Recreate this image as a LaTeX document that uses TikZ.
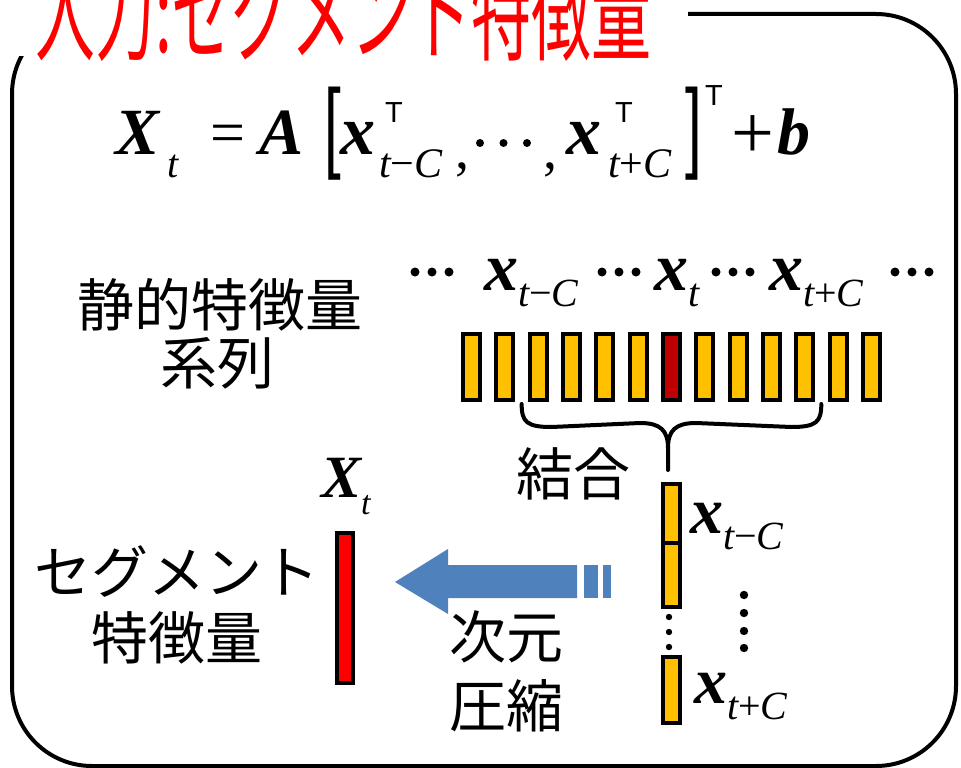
\documentclass[tikz,border=0pt]{standalone}
\usepackage{graphicx}
\usepackage{fontspec}
\newfontfamily\jp{Noto Sans CJK JP}
\newfontfamily\tnr{Liberation Serif}
\newfontfamily\ars{Liberation Sans}
\newcommand\fsz[1]{\fontsize{#1}{#1}\selectfont}
\newcommand\BI[2]{{\fsz{#1}\tnr\bfseries\itshape #2}}
\newcommand\IT[2]{{\fsz{#1}\tnr\itshape #2}}
\newcommand\vx[4]{\BI{#1}{#2}\raisebox{-16pt}{\IT{#3}{#4}}}
\newcommand\mn{\upshape −\itshape }
\newcommand\pl{\upshape +\itshape }
\definecolor{barorange}{HTML}{FFC000}
\definecolor{bardark}{HTML}{C00000}
\definecolor{arrowblue}{HTML}{4F81BD}
\tikzset{
  jplabel/.style={font=\jp\fsz{57}, inner sep=0pt},
  fbar/.style={draw=black, line width=4pt, fill=barorange, minimum width=17pt, inner sep=0pt, anchor=north west},
  tl/.style={inner sep=0pt, anchor=base west},
  sansT/.style={inner sep=0pt, anchor=base west, font=\ars\fsz{29}},
}
\begin{document}
\begin{tikzpicture}[x=1pt,y=-1pt]
\useasboundingbox (0,0) rectangle (961,768);
% frame
\draw[line width=4pt, rounded corners=80pt] (12,14) rectangle (956,766);
\fill[white] (0,0) rectangle (688,56);
\node[tl, text=red] (title) at (35,53) {\scalebox{1}[1.8]{\jp\fsz{60}入力:セグメント特徴量}};
% equation
\node[tl] (eX) at (115,154) {\BI{66}{X}};
\node[tl] (et) at (167,177) {\IT{40}{t}};
\node[tl] (eeq) at (210,153) {\tnr\fsz{62}=};
\node[tl] (eA) at (259,154) {\BI{66}{A}};
\node[inner sep=0pt, anchor=north west] (elb) at (324,87) {\scalebox{0.6}[1]{\ars\fsz{100}[}};
\node[tl] (ex1) at (340,154) {\BI{70}{x}};
\node[sansT] (eT1) at (385,122) {T};
\node[tl] (es1) at (379,177) {\IT{42}{t\mn C}};
\node[tl] (ec1) at (455,168) {\tnr\fsz{56},};
\foreach \k in {0,1,2}{ \fill (480+23.5*\k,143) circle (4pt); }
\node[tl] (ec2) at (543,168) {\tnr\fsz{56},};
\node[tl] (ex2) at (566,154) {\BI{70}{x}};
\node[sansT] (eT2) at (615,122) {T};
\node[tl] (es2) at (608,177) {\IT{42}{t\pl C}};
\node[inner sep=0pt, anchor=north east] (erb) at (702,87) {\scalebox{0.6}[1]{\ars\fsz{100}]}};
\node[sansT] (eT3) at (705,106) {T};
\node[tl] (eplus) at (731,158) {\tnr\fsz{76}+};
\node[tl] (eb) at (777,154) {\BI{66}{b}};
% static feature label
\node[jplabel] (static1) at (220,305) {静的特徴量};
\node[jplabel] (static2) at (217,363) {系列};
% row labels
\foreach \px in {415,602,716,895}{
  \foreach \k in {0,1,2}{ \fill (\px+17*\k,272) circle (4.5pt); }
}
\node[tl] (xtmC) at (484,290) {\vx{68}{x}{40}{t\mn C}};
\node[tl] (xt) at (654,290) {\vx{68}{x}{40}{t}};
\node[tl] (xtpC) at (769,290) {\vx{68}{x}{40}{t\pl C}};
% bar row
\foreach \i in {0,...,12}{
  \node[fbar, minimum height=66pt] (b\i) at (461+33.33*\i,332) {};
}
\node[fbar, fill=bardark, minimum height=66pt] (bt) at (461+33.33*6,332) {};
% brace
\draw[line width=4pt, line cap=round] (b2.south west) ++(-6,2) .. controls +(0,18) and +(-25,0) .. +(30,23) -- (640,423) .. controls (660,423) and (668,430) .. (668,448) -- (668,470);
\draw[line width=4pt, line cap=round] (b10.south east) ++(6,2) .. controls +(0,18) and +(25,0) .. +(-30,23) -- (696,423) .. controls (676,423) and (668,430) .. (668,448);
\node[jplabel] (concat) at (573,474) {結合};
% stacked vectors
\node[fbar, minimum height=59pt] (s1) at (661,482) {};
\node[fbar, minimum height=64pt] (s2) at (661,541) {};
\node[fbar, minimum height=66pt] (s3) at (661,655) {};
\foreach \yy in {617,632,647}{ \fill (669,\yy) circle (3.2pt); }
\foreach \yy in {595,613,631,648}{ \fill (744,\yy) circle (4.2pt); }
\node[tl] (stmC) at (690,533) {\vx{66}{x}{40}{t\mn C}};
\node[tl] (stpC) at (694,703) {\vx{66}{x}{40}{t\pl C}};
% arrow
\fill[arrowblue] (395,582) -- (448,549) -- (448,565) -- (577,565) -- (577,598) -- (448,598) -- (448,614) -- cycle;
\fill[arrowblue] (584,565) rectangle (598,598);
\fill[arrowblue] (603,565) rectangle (611,598);
\node[jplabel] (dim1) at (506,637) {次元};
\node[jplabel] (dim2) at (506,706) {圧縮};
% segment feature
\node[draw=black, line width=4pt, fill=red, minimum width=16pt, minimum height=150pt, inner sep=0pt, anchor=north west] (Xbar) at (335,531) {};
\node[tl] (Xlab) at (321,497) {\BI{60}{X}\raisebox{-17pt}{\IT{34}{t}}};
\node[jplabel] (seg1) at (177,572) {セグメント};
\node[jplabel] (seg2) at (177,638) {特徴量};
\end{tikzpicture}
\end{document}
